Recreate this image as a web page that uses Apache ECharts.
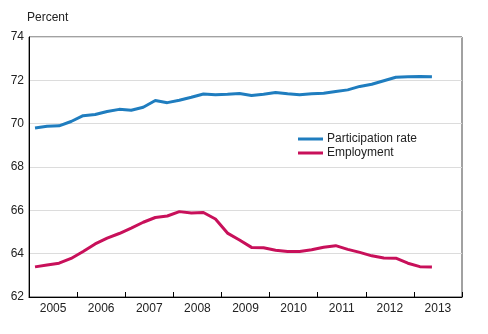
<!DOCTYPE html>
<html>
<head>
<meta charset="utf-8">
<script src="https://cdn.jsdelivr.net/npm/echarts@6/dist/echarts.min.js"></script>
<style>html,body{margin:0;padding:0;background:#fff}#c{width:488px;height:334px}</style>
</head>
<body>
<div id="c"></div>
<script>
var years = ['2005','2006','2007','2008','2009','2010','2011','2012','2013'];
var quarterNames = ['Q1','Q2','Q3','Q4'];
var yTicks = {min: 62, max: 74, step: 2};
var participation = [69.80,69.88,69.90,70.10,70.37,70.42,70.56,70.66,70.62,70.76,
  71.07,70.97,71.08,71.22,71.37,71.34,71.36,71.39,71.30,71.36,
  71.44,71.38,71.34,71.38,71.40,71.48,71.56,71.72,71.82,71.98,
  72.14,72.17,72.18,72.16];
var employment = [63.39,63.48,63.56,63.78,64.10,64.45,64.72,64.93,65.18,65.45,
  65.67,65.74,65.94,65.88,65.90,65.60,64.95,64.63,64.29,64.27,
  64.16,64.10,64.10,64.18,64.30,64.37,64.20,64.06,63.90,63.80,
  63.79,63.56,63.40,63.39];

var quarters = [];
years.forEach(function(y){ quarterNames.forEach(function(q){ quarters.push(y + ' ' + q); }); });

var FONT = '"Liberation Sans", Arial, sans-serif';
var chart = echarts.init(document.getElementById('c'), null, {renderer: 'canvas'});
chart.setOption({
  animation: false,
  backgroundColor: '#fff',
  textStyle: {fontFamily: FONT},
  grid: {left: 29, right: 26, top: 37, bottom: 37, show: true, borderColor: '#444', borderWidth: 1, containLabel: false},
  graphic: [{type: 'text', left: 27, top: 12, style: {text: 'Percent', fontSize: 12, fontFamily: FONT, fill: '#222'}}],
  legend: {
    orient: 'vertical', left: 293, top: 128, itemWidth: 25, itemHeight: 3, itemGap: 2,
    icon: 'rect',
    textStyle: {fontSize: 12, color: '#222', fontFamily: FONT, padding: [0,0,0,-1]},
    data: ['Participation rate', 'Employment']
  },
  xAxis: [
    {type: 'category', data: quarters, boundaryGap: true, show: false},
    {type: 'category', data: years, boundaryGap: true, position: 'bottom',
     axisLine: {show: true, lineStyle: {color: '#000', width: 1}},
     axisTick: {show: true, inside: true, length: 5, alignWithLabel: false, lineStyle: {color: '#000'}},
     axisLabel: {fontSize: 12, color: '#222', margin: 6, fontFamily: FONT},
     splitLine: {show: false}}
  ],
  yAxis: {
    type: 'value', min: yTicks.min, max: yTicks.max, interval: yTicks.step,
    axisLine: {show: true, lineStyle: {color: '#000', width: 1}},
    axisTick: {show: false},
    axisLabel: {fontSize: 12, color: '#222', margin: 5, fontFamily: FONT},
    splitLine: {show: true, lineStyle: {color: '#dcdcdc', width: 1}}
  },
  series: [
    {name: 'Participation rate', type: 'line', xAxisIndex: 0, data: participation,
     showSymbol: false, symbol: 'none', lineStyle: {color: '#1f7dbf', width: 3}, itemStyle: {color: '#1f7dbf'}},
    {name: 'Employment', type: 'line', xAxisIndex: 0, data: employment,
     showSymbol: false, symbol: 'none', lineStyle: {color: '#c8105a', width: 3}, itemStyle: {color: '#c8105a'}}
  ]
});
</script>
</body>
</html>
